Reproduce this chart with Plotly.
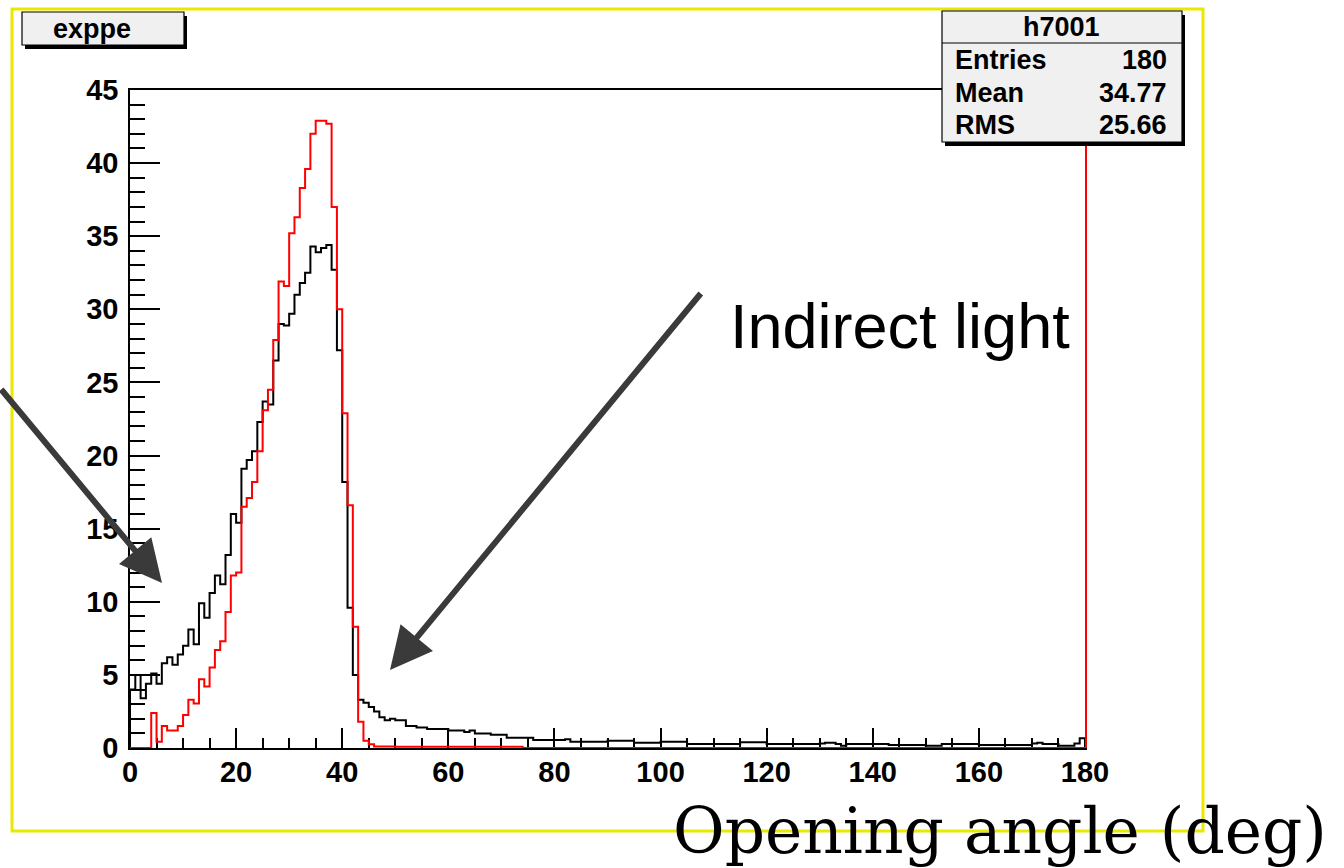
import plotly.graph_objects as go

# ---------------- data ----------------
bin_edges = list(range(0, 181))  # 180 bins of 1 deg

black_counts = [
    4.0, 5.0, 3.4, 4.4, 5.1, 4.4, 5.8, 6.2, 5.7, 6.4,
    7.0, 8.1, 7.1, 9.9, 8.9, 10.6, 11.8, 11.2, 13.2, 16.0,
    15.4, 19.1, 19.7, 20.3, 22.3, 23.7, 23.5, 26.5, 29.0, 28.9,
    29.7, 31.0, 31.8, 32.5, 34.3, 33.9, 34.2, 34.4, 32.7, 27.2,
    18.2, 9.6, 5.0, 3.3, 3.1, 2.8, 2.5, 2.1, 1.9, 2.0,
    1.9, 1.9, 1.5, 1.5, 1.4, 1.4, 1.3, 1.3, 1.3, 1.3,
    1.2, 1.2, 1.2, 1.1, 1.2, 1.0, 1.0, 1.0, 0.9, 0.9,
    0.9, 0.7, 0.7, 0.7, 0.7, 0.7, 0.55, 0.55, 0.55, 0.55,
    0.55, 0.55, 0.6, 0.43, 0.43, 0.43, 0.43, 0.43, 0.43, 0.43,
    0.5, 0.5, 0.5, 0.5, 0.5, 0.36, 0.36, 0.36, 0.36, 0.36,
    0.43, 0.43, 0.43, 0.43, 0.43, 0.27, 0.27, 0.27, 0.27, 0.27,
    0.27, 0.27, 0.27, 0.27, 0.27, 0.4, 0.4, 0.4, 0.4, 0.4,
    0.27, 0.27, 0.27, 0.27, 0.27, 0.27, 0.27, 0.27, 0.27, 0.27,
    0.3, 0.36, 0.36, 0.27, 0.15, 0.27, 0.27, 0.27, 0.27, 0.27,
    0.27, 0.27, 0.27, 0.2, 0.2, 0.2, 0.2, 0.2, 0.2, 0.2,
    0.15, 0.15, 0.15, 0.27, 0.27, 0.27, 0.27, 0.27, 0.27, 0.27,
    0.2, 0.2, 0.2, 0.2, 0.2, 0.2, 0.2, 0.2, 0.2, 0.2,
    0.3, 0.36, 0.27, 0.27, 0.27, 0.15, 0.15, 0.15, 0.3, 0.66,
]

red_counts = [
    0.0, 0.0, 0.0, 0.0, 2.4, 0.43, 1.5, 1.2, 1.2, 1.5,
    2.26, 3.3, 3.05, 4.7, 4.2, 5.5, 6.7, 7.3, 9.3, 11.8,
    12.0, 16.5, 17.1, 18.2, 20.3, 23.1, 24.5, 27.9, 31.9, 31.6,
    35.2, 36.3, 38.3, 39.6, 42.0, 42.9, 42.9, 42.7, 37.0, 30.0,
    22.9, 16.6, 8.3, 1.8, 0.5, 0.25, 0.1, 0.1, 0.1, 0.1,
    0.08, 0.08, 0.08, 0.08, 0.08, 0.08, 0.08, 0.08, 0.08, 0.08,
    0.08, 0.08, 0.08, 0.08, 0.08, 0.08, 0.08, 0.08, 0.08, 0.08,
    0.08, 0.08, 0.08, 0.08, 0.0, 0.0, 0.0, 0.0, 0.0, 0.0,
] + [0.0] * 100

x_tick_vals = [0, 20, 40, 60, 80, 100, 120, 140, 160, 180]
y_tick_vals = [0, 5, 10, 15, 20, 25, 30, 35, 40, 45]

title_text = "exppe"
stats_name = "h7001"
stats_labels = ["Entries", "Mean", "RMS"]
stats_values = ["180", "34.77", "25.66"]
arrow_label = "Indirect light"
x_title = "Opening angle (deg)"

# ---------------- layout geometry (pixels) ----------------
W, H = 1344, 868
PL, PR, PT, PB = 130, 1085, 90, 748


def fx(px):
    return (px - PL) / (PR - PL)


def fy(py):
    return (PB - py) / (PB - PT)


def step_xy(edges, counts):
    xs = [edges[0]] + list(edges) + [edges[-1]]
    ys = [0.0] + list(counts) + [counts[-1]] + [0.0]
    return xs, ys


fig = go.Figure()

bx, by = step_xy(bin_edges, black_counts)
fig.add_trace(go.Scatter(x=bx, y=by, mode="lines", line=dict(color="black", width=2, shape="hv"),
                         hoverinfo="skip", showlegend=False))
rx, ry = step_xy(bin_edges, red_counts)
fig.add_trace(go.Scatter(x=rx, y=ry, mode="lines", line=dict(color="#ff0000", width=2, shape="hv"),
                         yaxis="y2", hoverinfo="skip", showlegend=False))

tickfont = dict(family="Liberation Sans, Arial, sans-serif", size=29, color="black", weight="bold")

fig.update_layout(
    width=W, height=H,
    margin=dict(l=PL, r=W - PR, t=PT, b=H - PB),
    paper_bgcolor="white", plot_bgcolor="white",
    xaxis=dict(range=[0, 180], showgrid=False, zeroline=False, showline=True, linecolor="black",
               linewidth=1.5, mirror=True, ticks="inside", tickvals=x_tick_vals, ticklen=20,
               tickwidth=1.5, tickcolor="black", tickfont=tickfont, ticklabelstandoff=-3,
               minor=dict(dtick=5, ticklen=10, tickwidth=1.5, tickcolor="black", ticks="inside", showgrid=False),
               layer="below traces"),
    yaxis=dict(range=[0, 45], showgrid=False, zeroline=False, showline=True, linecolor="black",
               linewidth=1.5, mirror=False, ticks="inside", tickvals=y_tick_vals, ticklen=30,
               tickwidth=1.5, tickcolor="black", tickfont=tickfont, ticklabelstandoff=4,
               minor=dict(dtick=1, ticklen=15, tickwidth=1.5, tickcolor="black", ticks="inside", showgrid=False),
               layer="below traces"),
    yaxis2=dict(range=[0, 45], overlaying="y", side="right", showgrid=False, zeroline=False,
                showline=True, linecolor="#ff0000", linewidth=2, showticklabels=False, ticks=""),
)

shapes = []
# outer yellow frame
shapes.append(dict(type="rect", xref="paper", yref="paper", x0=fx(12), x1=fx(1203), y0=fy(831), y1=fy(9),
                   line=dict(color="#e8e800", width=3), fillcolor="rgba(0,0,0,0)", layer="above"))
# title box with shadow
shapes.append(dict(type="rect", xref="paper", yref="paper", x0=fx(25), x1=fx(187), y0=fy(49), y1=fy(16),
                   line=dict(width=0), fillcolor="black", layer="above"))
shapes.append(dict(type="rect", xref="paper", yref="paper", x0=fx(22), x1=fx(184), y0=fy(45), y1=fy(12),
                   line=dict(color="black", width=1.2), fillcolor="#f0f0f0", layer="above"))
# stats box with shadow
shapes.append(dict(type="rect", xref="paper", yref="paper", x0=fx(945), x1=fx(1185), y0=fy(146), y1=fy(15),
                   line=dict(width=0), fillcolor="black", layer="above"))
shapes.append(dict(type="rect", xref="paper", yref="paper", x0=fx(942), x1=fx(1182), y0=fy(142), y1=fy(11),
                   line=dict(color="black", width=1.2), fillcolor="#f0f0f0", layer="above"))
shapes.append(dict(type="line", xref="paper", yref="paper", x0=fx(942), x1=fx(1182), y0=fy(43), y1=fy(43),
                   line=dict(color="black", width=1.2), layer="above"))
fig.update_layout(shapes=shapes)

boxfont = dict(family="Liberation Sans, Arial, sans-serif", size=27, color="black", weight="bold")
ann = []
ann.append(dict(text=title_text, xref="paper", yref="paper", x=fx(92), y=fy(29), xanchor="center",
                yanchor="middle", showarrow=False, font=boxfont))
ann.append(dict(text=stats_name, xref="paper", yref="paper", x=fx(1061), y=fy(27), xanchor="center",
                yanchor="middle", showarrow=False, font=boxfont))
row_y = [60, 93, 125]
for lab, val, ry_ in zip(stats_labels, stats_values, row_y):
    ann.append(dict(text=lab, xref="paper", yref="paper", x=fx(953), y=fy(ry_), xanchor="left",
                    yanchor="middle", showarrow=False, font=boxfont))
    ann.append(dict(text=val, xref="paper", yref="paper", x=fx(1169), y=fy(ry_), xanchor="right",
                    yanchor="middle", showarrow=False, font=boxfont))

arrow_color = "#3a3a3a"
# left arrow
ann.append(dict(text="", xref="paper", yref="paper", x=fx(162), y=fy(583), ax=-175, ay=-195,
                showarrow=True, arrowhead=2, arrowsize=1.4, arrowwidth=6, arrowcolor=arrow_color))
# indirect light arrow
ann.append(dict(text="", xref="paper", yref="paper", x=fx(390), y=fy(670), ax=312, ay=-378,
                showarrow=True, arrowhead=2, arrowsize=1.4, arrowwidth=6, arrowcolor=arrow_color))
ann.append(dict(text=arrow_label, xref="paper", yref="paper", x=fx(728), y=fy(326), xanchor="left",
                yanchor="middle", showarrow=False,
                font=dict(family="Liberation Sans, Arial, sans-serif", size=63, color="black")))
ann.append(dict(text=x_title, xref="paper", yref="paper", x=fx(1000), y=fy(831), xanchor="center",
                yanchor="middle", showarrow=False,
                font=dict(family="DejaVu Serif, serif", size=63, color="black")))
fig.update_layout(annotations=ann)

fig.write_html("out.html", config={"displayModeBar": False},
               post_script="document.body.style.margin='0px';document.body.style.overflow='hidden';")
